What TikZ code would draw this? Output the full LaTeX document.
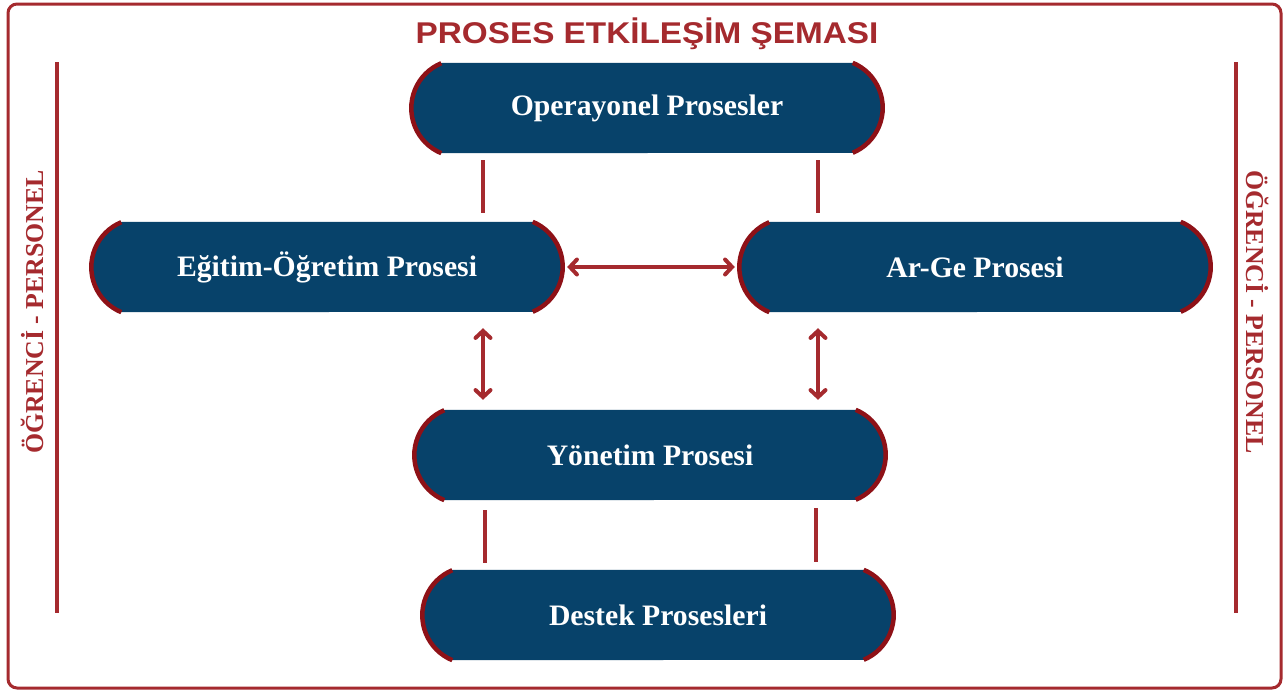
\documentclass[tikz,border=0pt]{standalone}
\usepackage{fontspec}
\setmainfont{Liberation Serif}
\newfontfamily\titlefont{Liberation Sans}
\usetikzlibrary{arrows.meta,backgrounds}
\definecolor{navy}{HTML}{07426A}
\definecolor{linered}{HTML}{A52A2E}
\definecolor{arcred}{HTML}{8E1117}
\tikzset{
  pill/.style={rectangle, inner sep=0pt, minimum width=411pt, minimum height=90pt,
    text=white, font=\fontsize{29.7}{31}\selectfont\bfseries},
  link/.style={draw=linered, line width=4pt},
  dlink/.style={draw=linered, line width=4pt, line cap=round,
    {Straight Barb[length=7pt,width=15pt,line cap=round]}-{Straight Barb[length=7pt,width=15pt,line cap=round]}},
  sidetext/.style={text=linered, font=\fontsize{25.8}{27}\selectfont\bfseries},
}
\begin{document}
\begin{tikzpicture}[x=1pt,y=-1pt]
\useasboundingbox (0,0) rectangle (1286,691);
\draw[linered, line width=3pt, rounded corners=9pt] (8,4) rectangle (1281,688);

\node[text=linered, font=\titlefont\fontsize{30}{32}\selectfont\bfseries] (title) at (647,34) {\scalebox{1.11}[1]{PROSES ETKİLEŞİM ŞEMASI}};

\node[pill] (op) at (647,108) {Operayonel Prosesler};
\node[pill] (eg) at (327,267) {Eğitim-Öğretim Prosesi};
\node[pill] (ar) at (975,267) {Ar-Ge Prosesi};
\node[pill] (yo) at (650,455) {Yönetim Prosesi};
\node[pill] (de) at (658,615) {Destek Prosesleri};

\begin{scope}[on background layer]
\foreach \n in {op,eg,ar,yo,de}{
  \fill[navy] (\n.north west) -- (\n.north east)
    arc[start angle=67.38, end angle=-67.38, radius=48.75pt]
    -- (\n.south west)
    arc[start angle=247.38, end angle=112.62, radius=48.75pt] -- cycle;
  \draw[arcred, line width=4.5pt] (\n.north east)
    arc[start angle=67.38, end angle=-67.38, radius=48.75pt];
  \draw[arcred, line width=4.5pt] (\n.south west)
    arc[start angle=247.38, end angle=112.62, radius=48.75pt];
}
\end{scope}

% side bars
\coordinate (lt) at (57,62);
\coordinate (lb) at (57,613);
\coordinate (rt) at (1236,62);
\coordinate (rb) at (1236,613);
\draw[link] (lt) -- (lb);
\draw[link] (rt) -- (rb);
\node[sidetext, rotate=90] (ls) at (32,312) {ÖĞRENCİ - PERSONEL};
\node[sidetext, rotate=-90] (rs) at (1258,312) {ÖĞRENCİ - PERSONEL};

% connectors
\coordinate (xl) at (483,0);
\coordinate (xr) at (818,0);
\draw[link] ([yshift=-7pt]op.south -| xl) -- ([yshift=9pt]eg.north -| xl);
\draw[link] ([yshift=-7pt]op.south -| xr) -- ([yshift=9pt]ar.north -| xr);
\draw[dlink] ([xshift=34.5pt]eg.east) -- ([xshift=-34.5pt]ar.west);
\draw[dlink] ([yshift=-16pt]eg.south -| xl) -- ([yshift=10pt]yo.north -| xl);
\draw[dlink] ([yshift=-16pt]ar.south -| xr) -- ([yshift=10pt]yo.north -| xr);
\coordinate (xl2) at (485,0);
\coordinate (xr2) at (816,0);
\draw[link] ([yshift=-10pt]yo.south -| xl2) -- ([yshift=7pt]de.north -| xl2);
\draw[link] ([yshift=-8pt]yo.south -| xr2) -- ([yshift=8pt]de.north -| xr2);
\end{tikzpicture}
\end{document}
